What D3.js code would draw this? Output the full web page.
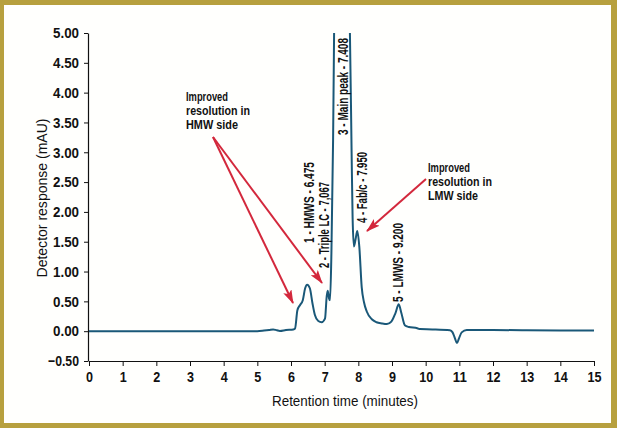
<!DOCTYPE html>
<html><head><meta charset="utf-8">
<script src="https://cdn.jsdelivr.net/npm/d3@7"></script>
<style>
html,body{margin:0;padding:0;background:#fff;}
svg{display:block;}
text{font-family:"Liberation Sans","Arimo","Roboto",sans-serif;}
</style></head>
<body>
<svg id="c" width="617" height="428"></svg>
<script>
const times  = [0, 2, 4, 5.0, 5.2, 5.35, 5.47, 5.58, 5.67, 5.85, 6.07, 6.12, 6.19, 6.27, 6.35, 6.42, 6.48, 6.56, 6.64, 6.71, 6.81, 6.91, 7.01, 7.06, 7.09, 7.13, 7.16, 7.2, 7.25, 7.28, 7.34, 7.41, 7.5, 7.62, 7.72, 7.75, 7.8, 7.83, 7.87, 7.92, 7.97, 8.03, 8.10, 8.17, 8.25, 8.4, 8.54, 8.7, 8.85, 8.98, 9.1, 9.2, 9.28, 9.38, 9.5, 9.75, 9.83, 10.2, 10.72, 10.8, 10.87, 10.93, 10.99, 11.07, 11.22, 12, 13, 14, 15];
const values = [0, 0, 0, 0, 0.01, 0.02, 0.03, 0.015, 0.005, 0.02, 0.03, 0.045, 0.35, 0.44, 0.52, 0.72, 0.78, 0.72, 0.46, 0.27, 0.17, 0.15, 0.21, 0.58, 0.68, 0.55, 0.52, 1.3, 3.2, 5.0, 9.0, 11.5, 10.5, 8.0, 5.4, 5.0, 3.0, 1.9, 1.42, 1.55, 1.68, 1.41, 0.74, 0.48, 0.33, 0.2, 0.15, 0.13, 0.12, 0.16, 0.3, 0.45, 0.3, 0.1, 0.07, 0.05, 0.035, 0.03, 0.015, -0.02, -0.12, -0.2, -0.12, -0.02, 0.02, 0.02, 0.015, 0.012, 0.01];
const xTicks = [0,1,2,3,4,5,6,7,8,9,10,11,12,13,14,15];
const yTicks = [-0.5,0,0.5,1,1.5,2,2.5,3,3.5,4,4.5,5];
const peakLabels = ["1 - HMWS - 6.475", "2 - Triple LC - 7,067", "3 - Main peak - 7.408", "4 - Fab/c - 7.950", "5 - LMWS - 9.200"];
const peakTimes  = [6.475, 7.067, 7.408, 7.950, 9.200];
const hmwNote = ["Improved", "resolution in", "HMW side"];
const lmwNote = ["Improved", "resolution in", "LMW side"];

const svg = d3.select("#c");
const W = 617, H = 428;
// condensed look: fit text to measured widths
function fit(sel, w){ sel.attr("textLength", w).attr("lengthAdjust","spacingAndGlyphs"); }

// frame
svg.append("rect").attr("x",0).attr("y",0).attr("width",W).attr("height",H).attr("fill","#b7a03e");
svg.append("rect").attr("x",4).attr("y",5).attr("width",W-10).attr("height",H-10).attr("fill","#fffffd");

const x = d3.scaleLinear().domain([0,15]).range([89,594]);
const y = d3.scaleLinear().domain([-0.5,5]).range([361,33]);

const defs = svg.append("defs");
defs.append("clipPath").attr("id","clip").append("rect")
  .attr("x",89).attr("y",33).attr("width",520).attr("height",330);
defs.append("marker").attr("id","ah").attr("viewBox","0 0 14 9").attr("refX",13).attr("refY",4.5)
  .attr("markerWidth",14).attr("markerHeight",9).attr("markerUnits","userSpaceOnUse").attr("orient","auto")
  .append("path").attr("d","M0,0 L14,4.5 L0,9 L3,4.5 Z").attr("fill","#d3283c");

// axes
const yAxis = d3.axisLeft(y).tickValues(yTicks).tickFormat(d3.format(".2f")).tickSize(4).tickSizeOuter(0);
const gy = svg.append("g").attr("transform","translate(88,0)").call(yAxis);
gy.select(".domain").attr("stroke","#111").attr("stroke-width",1.2);
gy.selectAll("line").attr("stroke","#111");
gy.selectAll("text").attr("font-size",15).attr("font-weight","bold").attr("fill","#111").attr("dx",-2)
  .each(function(d){ fit(d3.select(this), d<0 ? 31 : 26); });

const xAxis = d3.axisBottom(x).tickValues(xTicks).tickFormat(d3.format("d")).tickSize(5).tickSizeOuter(0);
const gx = svg.append("g").attr("transform","translate(0,361)").call(xAxis);
gx.select(".domain").attr("stroke","#111").attr("stroke-width",1.2);
gx.selectAll("line").attr("stroke","#111");
gx.selectAll("text").attr("font-size",15).attr("font-weight","bold").attr("fill","#111").attr("dy","0.85em")
  .each(function(d){ fit(d3.select(this), d>=10 ? 14 : 7); });

fit(svg.append("text").attr("x",345).attr("y",406).attr("text-anchor","middle")
  .attr("font-size",15).attr("fill","#111").text("Retention time (minutes)"), 146);
fit(svg.append("text").attr("transform","translate(47,198) rotate(-90)").attr("text-anchor","middle")
  .attr("font-size",15).attr("fill","#111").text("Detector response  (mAU)"), 159);

// chromatogram
const line = d3.line().x((d,i)=>x(times[i])).y(d=>y(d)).curve(d3.curveMonotoneX);
svg.append("path").datum(values).attr("clip-path","url(#clip)")
  .attr("d",line).attr("fill","none").attr("stroke","#1a5878").attr("stroke-width",2).attr("stroke-linejoin","round");

// peak labels (rotated)
const labelBottoms = [243, 268, 135, 223, 302];
const labelOffset = [7, 2, 9.6, 10.3, 4.2];
const labelWidths = [81, 86, 97, 71, 79];
peakLabels.forEach((t,i)=>{
  fit(svg.append("text")
    .attr("transform",`translate(${x(peakTimes[i])+labelOffset[i]},${labelBottoms[i]}) rotate(-90)`)
    .attr("font-size",14).attr("font-weight","bold").attr("fill","#111").text(t), labelWidths[i]);
});

// notes
const noteW = [42, 64, 52];
const notes = svg.append("g").attr("font-size",12).attr("font-weight","bold").attr("fill","#111");
hmwNote.forEach((t,i)=>fit(notes.append("text").attr("x",186).attr("y",101+i*14).text(t), noteW[i]));
lmwNote.forEach((t,i)=>fit(notes.append("text").attr("x",428).attr("y",172+i*14).text(t), i===2 ? 50 : noteW[i]));

// arrows
const arrows = [[213,137,293,303],[213,137,322,283],[426,179,367,231]];
arrows.forEach(a=>{
  svg.append("line").attr("x1",a[0]).attr("y1",a[1]).attr("x2",a[2]).attr("y2",a[3])
    .attr("stroke","#d3283c").attr("stroke-width",2).attr("marker-end","url(#ah)");
});
</script>
</body></html>
